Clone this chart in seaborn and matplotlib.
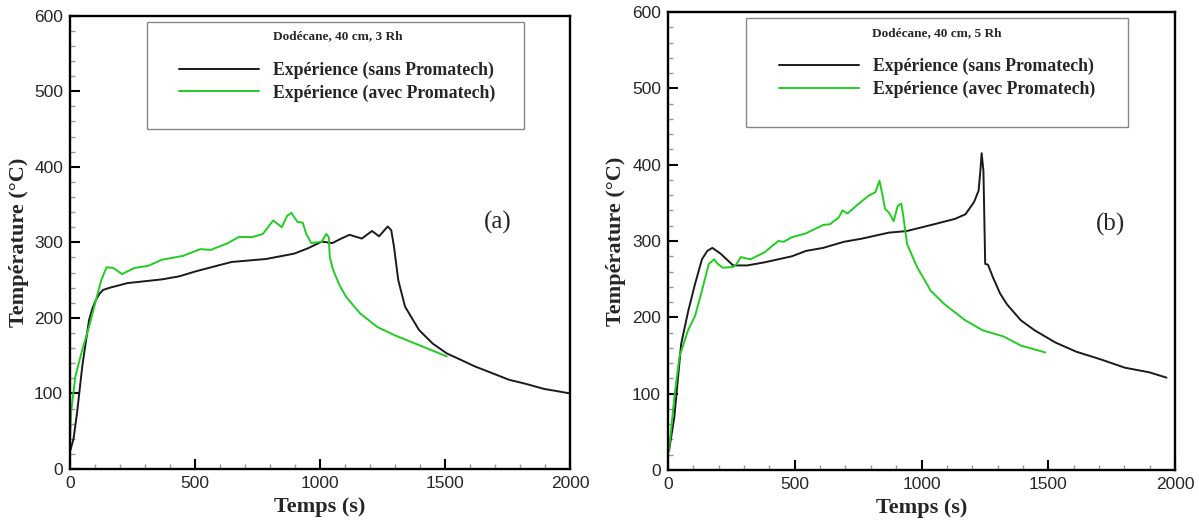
import numpy as np
import pandas as pd
import matplotlib
matplotlib.use("Agg")
import matplotlib.pyplot as plt
from matplotlib.patches import Rectangle
from matplotlib.ticker import MultipleLocator
import seaborn as sns

# (a) Dodecane, 40 cm, 3 Rh
t_a_sans = [0, 14, 28, 49, 76, 90, 104, 118, 132, 160, 229, 368, 437, 507, 646, 785, 896,
            951, 1007, 1049, 1085, 1118, 1167, 1208, 1236, 1271, 1285, 1296, 1313, 1340,
            1396, 1451, 1507, 1560, 1618, 1680, 1757, 1820, 1896, 1950, 2000]
T_a_sans = [23, 40, 74, 136, 197, 213, 224, 232, 237, 240, 246, 251, 255, 262, 274, 278, 285,
            292, 301, 299, 305, 310, 305, 315, 308, 321, 316, 294, 250, 215,
            184, 166, 153, 145, 136, 128, 118, 113, 106, 103, 100]
t_a_avec = [0, 4, 21, 49, 76, 104, 125, 146, 174, 208, 257, 313, 368, 451, 521, 563, 632,
            674, 729, 771, 813, 847, 868, 885, 910, 931, 944, 965, 1007, 1025, 1035, 1039,
            1050, 1063, 1080, 1104, 1160, 1229, 1299, 1396, 1507]
T_a_avec = [40, 74, 122, 158, 188, 224, 250, 267, 266, 258, 266, 269, 277, 282, 291, 290, 299,
            307, 307, 311, 329, 320, 335, 339, 327, 326, 312, 299, 301, 311, 307, 281,
            266, 255, 242, 228, 206, 188, 177, 164, 149]

# (b) Dodecane, 40 cm, 5 Rh
t_b_sans = [4, 25, 52, 79, 107, 134, 155, 175, 209, 257, 312, 380, 489, 544, 612, 694, 763,
            872, 941, 1050, 1132, 1173, 1207, 1225, 1232, 1237, 1244, 1251, 1262, 1282,
            1310, 1337, 1392, 1446, 1528, 1610, 1706, 1802, 1898, 1966]
T_b_sans = [25, 69, 165, 207, 244, 276, 287, 291, 283, 268, 268, 272, 280, 287, 291, 299, 303,
            311, 313, 322, 329, 335, 351, 366, 392, 415, 392, 270, 269, 252,
            231, 217, 196, 183, 167, 155, 145, 134, 128, 121]
t_b_avec = [4, 25, 45, 79, 107, 134, 161, 182, 196, 216, 257, 271, 287, 325, 380, 435, 456,
            489, 544, 612, 639, 674, 688, 708, 749, 790, 818, 834, 845, 856, 872, 890, 906,
            920, 927, 943, 982, 1036, 1091, 1173, 1241, 1323, 1392, 1488]
T_b_avec = [25, 95, 148, 183, 202, 235, 270, 276, 270, 265, 266, 270, 279, 276, 285, 300, 299,
            305, 310, 321, 322, 331, 340, 336, 348, 359, 364, 379, 362, 342, 337, 326, 346,
            349, 335, 296, 266, 235, 217, 196, 183, 175, 163, 154]

label_sans = "Expérience (sans Promatech)"
label_avec = "Expérience (avec Promatech)"
titles = ["Dodécane, 40 cm, 3 Rh", "Dodécane, 40 cm, 5 Rh"]
panel_tags = ["(a)", "(b)"]
tag_pos = [(1712, 326), (1744, 322)]

black = "#1a1a1a"
green = "#22cc22"

sns.set_style("ticks")
plt.rcParams["font.family"] = ["Liberation Sans", "DejaVu Sans"]

fig = plt.figure(figsize=(11.99, 5.22), dpi=100)
ax_a = fig.add_axes([0.0584, 0.1015, 0.4170, 0.8685])
ax_b = fig.add_axes([0.5571, 0.0996, 0.4230, 0.8774])

serif = ["Liberation Serif", "DejaVu Serif"]

panels = [
    (ax_a, t_a_sans, T_a_sans, t_a_avec, T_a_avec),
    (ax_b, t_b_sans, T_b_sans, t_b_avec, T_b_avec),
]

for i, (ax, ts, Ts, tv, Tv) in enumerate(panels):
    df_s = pd.DataFrame({"t": ts, "T": Ts})
    df_v = pd.DataFrame({"t": tv, "T": Tv})
    sns.lineplot(data=df_s, x="t", y="T", ax=ax, color=black, lw=1.4,
                 estimator=None, label=label_sans)
    sns.lineplot(data=df_v, x="t", y="T", ax=ax, color=green, lw=1.4,
                 estimator=None, label=label_avec)

    ax.set_xlim(0, 2000)
    ax.set_ylim(0, 600)
    ax.xaxis.set_major_locator(MultipleLocator(500))
    ax.xaxis.set_minor_locator(MultipleLocator(100))
    ax.yaxis.set_major_locator(MultipleLocator(100))
    ax.yaxis.set_minor_locator(MultipleLocator(20))
    ax.tick_params(which="major", direction="in", length=7.5, width=1.5,
                   color="black", labelsize=12.5, pad=5)
    ax.tick_params(which="minor", direction="in", length=3.5, width=1,
                   color="#999999")
    for sp in ax.spines.values():
        sp.set_linewidth(1.7)
        sp.set_color("black")
        sp.set_visible(True)

    ax.set_xlabel("Temps (s)", family=serif, fontweight="bold", fontsize=16,
                  labelpad=4)
    ax.set_ylabel("Température (°C)", family=serif, fontweight="bold",
                  fontsize=16, labelpad=4)

    # legend box
    ax.add_patch(Rectangle((0.154, 0.749), 0.754, 0.237, transform=ax.transAxes,
                           facecolor="white", edgecolor="#888888", lw=1, zorder=3))
    leg = ax.legend(loc="upper left", bbox_to_anchor=(0.218, 0.968),
                    frameon=False, title=titles[i],
                    prop={"family": serif, "weight": "bold", "size": 12.8},
                    handlelength=4.5, handletextpad=0.8, labelspacing=0.3,
                    borderpad=0, borderaxespad=0)
    leg.get_title().set_fontproperties({"family": serif, "weight": "bold", "size": 9.5})
    leg._legend_box.sep = 14
    leg.set_zorder(4)

    ax.text(tag_pos[i][0], tag_pos[i][1], panel_tags[i], family=serif,
            fontsize=18, ha="center", va="center")

fig.savefig("out.png", dpi=100)
